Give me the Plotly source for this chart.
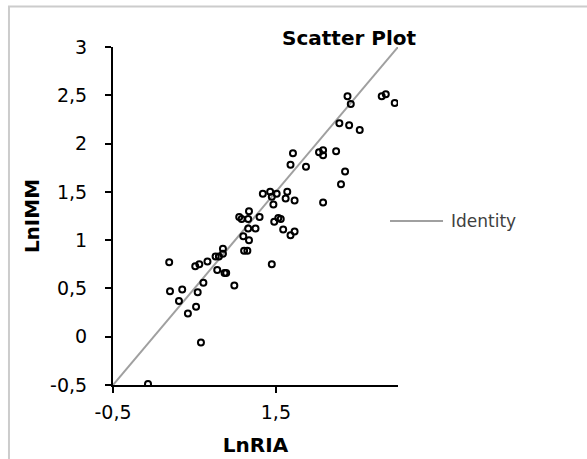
import plotly.graph_objects as go

# LnRIA vs LnIMM observations
ln_ria = [
    -0.07, 0.19, 0.20, 0.35, 0.31, 0.42, 0.52, 0.54, 0.61, 0.58,
    0.51, 0.56, 0.66, 0.76, 0.80, 0.85, 0.85, 0.78, 0.87, 0.89,
    0.99, 1.05, 1.08, 1.17, 1.16, 1.30, 1.16, 1.25, 1.10, 1.17,
    1.11, 1.15, 1.45, 1.34, 1.43, 1.45, 1.51, 1.64, 1.62, 1.73,
    1.47, 1.53, 1.56, 1.48, 1.59, 1.68, 1.73, 2.08, 2.30, 2.38,
    2.42, 2.80, 2.85, 2.96, 2.28, 2.40, 2.53, 2.03, 2.08, 2.08,
    2.24, 1.87, 2.35, 1.71, 1.68,
]
ln_imm = [
    -0.49, 0.77, 0.47, 0.49, 0.37, 0.24, 0.31, 0.46, 0.56, -0.06,
    0.73, 0.75, 0.78, 0.83, 0.83, 0.91, 0.86, 0.69, 0.66, 0.66,
    0.53, 1.24, 1.22, 1.30, 1.22, 1.24, 1.12, 1.12, 1.04, 1.00,
    0.89, 0.89, 0.75, 1.48, 1.50, 1.45, 1.48, 1.50, 1.43, 1.41,
    1.37, 1.23, 1.22, 1.19, 1.11, 1.05, 1.09, 1.39, 1.58, 2.49,
    2.41, 2.49, 2.51, 2.42, 2.21, 2.19, 2.14, 1.91, 1.93, 1.88,
    1.92, 1.76, 1.71, 1.90, 1.78,
]

# Identity reference line end points
identity = [-0.5, 3.0]

x_ticks = [-0.5, 1.5]
x_tick_labels = ["-0,5", "1,5"]
y_ticks = [-0.5, 0, 0.5, 1, 1.5, 2, 2.5, 3]
y_tick_labels = ["-0,5", "0", "0,5", "1", "1,5", "2", "2,5", "3"]

IDENTITY_COLOR = "#a0a0a0"

fig = go.Figure()

fig.add_trace(go.Scatter(
    x=identity, y=identity, mode="lines", name="Identity",
    line=dict(color=IDENTITY_COLOR, width=2),
    showlegend=False,
))

fig.add_trace(go.Scatter(
    x=ln_ria, y=ln_imm, mode="markers", name="Observations",
    marker=dict(symbol="circle-open", size=6, color="black",
                line=dict(color="black", width=2)),
    showlegend=False,
))

tick_font = dict(family="DejaVu Sans", size=19, color="black")
title_font = dict(family="DejaVu Sans", size=20, color="black")

fig.update_layout(
    width=587, height=459,
    margin=dict(l=113, r=189, t=47, b=74),
    paper_bgcolor="white", plot_bgcolor="white",
    xaxis=dict(
        range=[-0.5, 3.0], tickvals=x_ticks, ticktext=x_tick_labels,
        showgrid=False, zeroline=False, automargin=False,
        showline=True, linecolor="black", linewidth=2,
        ticks="outside", ticklen=6, tickwidth=2, tickcolor="black",
        tickfont=tick_font, ticklabelstandoff=3,
        title=dict(text="<b>LnRIA</b>", font=title_font, standoff=16),
    ),
    yaxis=dict(
        range=[-0.5, 3.0], tickvals=y_ticks, ticktext=y_tick_labels,
        showgrid=False, zeroline=False, automargin=False,
        showline=True, linecolor="black", linewidth=2,
        ticks="outside", ticklen=6, tickwidth=2, tickcolor="black",
        tickfont=tick_font, ticklabelstandoff=14,
        title=dict(text="<b>LnIMM</b>", font=title_font, standoff=5),
    ),
    annotations=[
        dict(
            text="<b>Scatter Plot</b>", xref="paper", yref="paper",
            x=1.072, y=1.028, xanchor="right", yanchor="middle",
            showarrow=False, font=title_font,
        ),
        # legend entry label for the identity line
        dict(
            text="Identity", xref="paper", yref="paper",
            x=1.179, y=0.485, xanchor="left", yanchor="middle",
            showarrow=False,
            font=dict(family="DejaVu Sans", size=17, color="#404040"),
        ),
    ],
    shapes=[
        # outer frame
        dict(
            type="rect", xref="paper", yref="paper",
            x0=-0.365, x1=1.75, y0=-0.3, y1=1.12,
            line=dict(color="#cccccc", width=2),
        ),
        # legend key for the identity line
        dict(
            type="line", xref="paper", yref="paper",
            x0=0.972, x1=1.158, y0=0.485, y1=0.485,
            line=dict(color=IDENTITY_COLOR, width=2),
        ),
    ],
)

fig.write_html("out.html")
